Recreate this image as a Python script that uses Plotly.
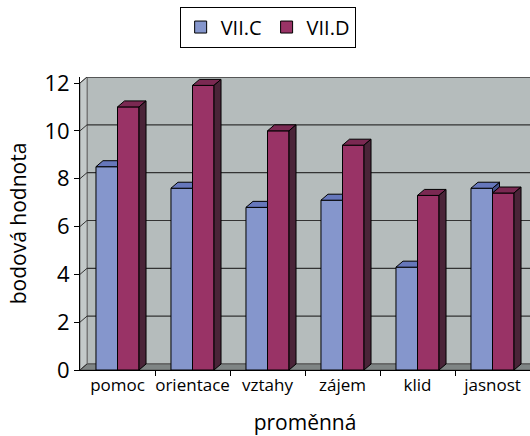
import plotly.graph_objects as go

# ---- data ----
categories = ["pomoc", "orientace", "vztahy", "zájem", "klid", "jasnost"]
vii_c = [8.5, 7.6, 6.8, 7.1, 4.3, 7.6]
vii_d = [11.0, 11.9, 10.0, 9.4, 7.3, 7.4]
series_names = ["VII.C", "VII.D"]
y_ticks = [0, 2, 4, 6, 8, 10, 12]

# ---- layout constants ----
W, H = 530, 436
ML, MR, MT, MB = 80, 0, 77, 66
DEPTH_X_PX, DEPTH_Y_PX = 7, 6
plot_w = W - ML - MR
plot_h = H - MT - MB
XMIN, XMAX = -0.5, len(categories) - 0.5
YTOP = 12
ppu_y = (plot_h - DEPTH_Y_PX) / YTOP
ppu_x = plot_w / (XMAX - XMIN)
ddx = DEPTH_X_PX / ppu_x
ddy = DEPTH_Y_PX / ppu_y
YMAX = YTOP + ddy
BW = 0.287

FONT = "Open Sans"
C_FRONT, C_TOP, C_SIDE = "#8596CC", "#6677BB", "#44508A"
D_FRONT, D_TOP, D_SIDE = "#993366", "#7A2952", "#4A2438"
WALL, SIDEWALL, FLOOR = "#B5BCBC", "#C3C9C9", "#7F8585"

fig = go.Figure()

# front faces as real bars
xs = list(range(len(categories)))
fig.add_trace(go.Bar(x=xs, y=vii_c, name=series_names[0], width=BW, offset=-BW,
                     marker=dict(color=C_FRONT, line=dict(color="black", width=1)),
                     hoverinfo="skip"))
fig.add_trace(go.Bar(x=xs, y=vii_d, name=series_names[1], width=BW, offset=0,
                     marker=dict(color=D_FRONT, line=dict(color="black", width=1)),
                     hoverinfo="skip"))


def poly_trace(polys, color):
    px, py = [], []
    for p in polys:
        for (a, b) in p:
            px.append(a)
            py.append(b)
        px.append(p[0][0])
        py.append(p[0][1])
        px.append(None)
        py.append(None)
    return go.Scatter(x=px, y=py, mode="lines", fill="toself", fillcolor=color,
                      line=dict(color="black", width=1), showlegend=False,
                      hoverinfo="skip")


c_tops, c_sides, d_tops, d_sides = [], [], [], []
for i, (b, r) in enumerate(zip(vii_c, vii_d)):
    xl, xm, xr = i - BW, i, i + BW
    if b >= r:
        c_tops.append([(xl, b), (xm, b), (xm + ddx, b + ddy), (xl + ddx, b + ddy)])
        c_sides.append([(xm, r), (xm + ddx, r + ddy), (xm + ddx, b + ddy), (xm, b)])
    else:
        c_tops.append([(xl, b), (xm, b), (xm, b + ddy), (xl + ddx, b + ddy)])
    d_tops.append([(xm, r), (xr, r), (xr + ddx, r + ddy), (xm + ddx, r + ddy)])
    d_sides.append([(xr, 0), (xr + ddx, ddy), (xr + ddx, r + ddy), (xr, r)])

if c_sides:
    fig.add_trace(poly_trace(c_sides, C_SIDE))
fig.add_trace(poly_trace(c_tops, C_TOP))
fig.add_trace(poly_trace(d_tops, D_TOP))
fig.add_trace(poly_trace(d_sides, D_SIDE))

# walls, floor, gridlines
shapes = []
bx0 = XMIN + ddx
shapes.append(dict(type="rect", xref="x", yref="y", x0=bx0, x1=XMAX + 1, y0=ddy, y1=YTOP + ddy,
                   fillcolor=WALL, line=dict(color="#666666", width=1.5), layer="below"))
shapes.append(dict(type="path", xref="x", yref="y",
                   path=f"M {XMIN},0 L {bx0},{ddy} L {bx0},{YTOP + ddy} L {XMIN},{YTOP} Z",
                   fillcolor=SIDEWALL, line=dict(color="#777777", width=1), layer="below"))
shapes.append(dict(type="path", xref="x", yref="y",
                   path=f"M {XMIN},0 L {XMAX + 1},0 L {XMAX + 1},{ddy} L {bx0},{ddy} Z",
                   fillcolor=FLOOR, line=dict(color="#555555", width=1), layer="below"))
for v in y_ticks[1:]:
    shapes.append(dict(type="line", xref="x", yref="y", x0=bx0, x1=XMAX + 1,
                       y0=v + ddy, y1=v + ddy, line=dict(color="#333333", width=1.2),
                       layer="below"))
for v in y_ticks:
    shapes.append(dict(type="line", xref="x", yref="y", x0=XMIN, x1=bx0,
                       y0=v, y1=v + ddy, line=dict(color="#333333", width=1),
                       layer="below"))

fig.update_layout(
    width=W, height=H,
    margin=dict(l=ML, r=MR, t=MT, b=MB, pad=0, autoexpand=False),
    paper_bgcolor="white", plot_bgcolor="white",
    barmode="overlay",
    shapes=shapes,
    font=dict(family=FONT, color="black"),
    showlegend=True,
    legend=dict(orientation="h", xref="container", yref="container",
                x=0.505, xanchor="center", y=0.985, yanchor="top",
                bordercolor="black", borderwidth=1, bgcolor="white",
                font=dict(size=20, family=FONT), itemwidth=30,
                traceorder="normal"),
    xaxis=dict(range=[XMIN, XMAX], tickmode="array", tickvals=xs, ticktext=categories,
               ticks="", showgrid=False, zeroline=False, showline=True, automargin=False,
               linecolor="black", linewidth=1,
               tickfont=dict(size=17, family=FONT),
               minor=dict(tickmode="array", tickvals=[i + 0.5 for i in xs],
                          ticks="outside", ticklen=5, tickcolor="black", showgrid=False),
               title=dict(text="proměnná", font=dict(size=21, family=FONT), standoff=20)),
    yaxis=dict(range=[0, YMAX], tickmode="array", tickvals=y_ticks,
               ticks="outside", ticklen=5, tickcolor="black", automargin=False,
               showgrid=False, zeroline=False, showline=True,
               linecolor="black", linewidth=1,
               tickfont=dict(size=22, family=FONT),
               title=dict(text="bodová hodnota", font=dict(size=21, family=FONT), standoff=12)),
)

fig.write_html("out.html", config={"displayModeBar": False},
               post_script="document.body.style.margin='0';")
